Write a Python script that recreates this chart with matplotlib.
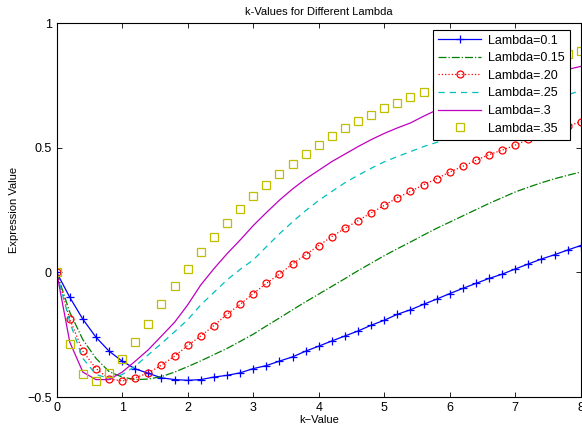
import matplotlib
matplotlib.use("Agg")
import matplotlib.pyplot as plt
import numpy as np

plt.rcParams["font.family"] = ["Liberation Sans", "DejaVu Sans"]
plt.rcParams["font.size"] = 8

# k values, step 0.2
k = np.round(np.arange(0, 8.01, 0.2), 1)

# values
lam_01 = [0, -0.10, -0.188, -0.26, -0.316, -0.356, -0.387, -0.405, -0.423, -0.43,
          -0.433, -0.43, -0.42, -0.413, -0.403, -0.386, -0.374, -0.356, -0.339, -0.316,
          -0.296, -0.275, -0.255, -0.235, -0.212, -0.192, -0.168, -0.150, -0.128, -0.107,
          -0.085, -0.064, -0.044, -0.024, -0.007, 0.014, 0.034, 0.054, 0.071, 0.090, 0.108]
lam_015 = [0, -0.16, -0.27, -0.345, -0.398, -0.42, -0.43, -0.428, -0.418, -0.40,
           -0.378, -0.355, -0.33, -0.305, -0.277, -0.248, -0.215, -0.183, -0.15, -0.118,
           -0.087, -0.056, -0.025, 0.007, 0.037, 0.067, 0.095, 0.122, 0.15, 0.177,
           0.202, 0.227, 0.252, 0.277, 0.30, 0.323, 0.342, 0.36, 0.376, 0.39, 0.403]
lam_020 = [0, -0.188, -0.316, -0.386, -0.427, -0.436, -0.423, -0.403, -0.372, -0.336,
           -0.293, -0.255, -0.213, -0.168, -0.128, -0.085, -0.044, -0.007, 0.034, 0.071,
           0.108, 0.144, 0.177, 0.208, 0.239, 0.269, 0.30, 0.325, 0.352, 0.376,
           0.403, 0.426, 0.45, 0.473, 0.491, 0.511, 0.534, 0.551, 0.57, 0.587, 0.605]
lam_025 = [0, -0.20, -0.345, -0.41, -0.425, -0.41, -0.376, -0.33, -0.285, -0.238,
           -0.19, -0.13, -0.08, -0.03, 0.012, 0.05, 0.103, 0.155, 0.203, 0.248,
           0.289, 0.325, 0.36, 0.39, 0.418, 0.444, 0.465, 0.485, 0.505, 0.522,
           0.538, 0.56, 0.58, 0.6, 0.62, 0.64, 0.66, 0.678, 0.695, 0.713, 0.73]
lam_030 = [0, -0.28, -0.40, -0.43, -0.43, -0.40, -0.356, -0.31, -0.255, -0.2,
           -0.13, -0.05, 0.015, 0.075, 0.13, 0.188, 0.24, 0.29, 0.335, 0.375,
           0.41, 0.445, 0.475, 0.505, 0.533, 0.558, 0.58, 0.60, 0.627, 0.652,
           0.67, 0.69, 0.71, 0.728, 0.745, 0.76, 0.775, 0.788, 0.80, 0.815, 0.827]
lam_035 = [0, -0.289, -0.407, -0.437, -0.403, -0.347, -0.278, -0.206, -0.128, -0.054,
           0.014, 0.081, 0.141, 0.198, 0.256, 0.306, 0.35, 0.397, 0.437, 0.475,
           0.511, 0.547, 0.578, 0.608, 0.632, 0.659, 0.681, 0.706, 0.726, 0.744,
           0.76, 0.776, 0.79, 0.805, 0.818, 0.83, 0.843, 0.855, 0.866, 0.877, 0.887]

labels = ["Lambda=0.1", "Lambda=0.15", "Lambda=.20", "Lambda=.25", "Lambda=.3", "Lambda=.35"]

fig = plt.figure(figsize=(5.82, 4.32), dpi=100)
ax = fig.add_axes([0.0974, 0.081, 0.9004, 0.865])

ax.plot(k, lam_01, color="#0000ff", lw=0.9, marker="+", ms=6, mew=0.9, label=labels[0])
ax.plot(k, lam_015, color="#008000", lw=0.9, ls="-.", label=labels[1])
ax.plot(k, lam_020, color="#ff0000", lw=0.9, ls=":", marker="o", ms=5, mfc="none",
        mew=0.9, label=labels[2])
ax.plot(k, lam_025, color="#00bfbf", lw=0.9, ls="--", dashes=(5, 4), label=labels[3])
ax.plot(k, lam_030, color="#bf00bf", lw=0.9, label=labels[4])
ax.plot(k, lam_035, color="#bfbf00", lw=0, ls="none", marker="s", ms=5.5, mfc="none",
        mew=0.9, label=labels[5])

ax.set_xlim(0, 8)
ax.set_ylim(-0.5, 1)
ax.set_xticks(range(0, 9))
ax.set_yticks([-0.5, 0, 0.5, 1])
ax.set_yticklabels(["\u22120.5", "0", "0.5", "1"])
ax.tick_params(direction="in", top=True, right=True, length=3.5, width=0.6, labelsize=9)
for s in ax.spines.values():
    s.set_linewidth(0.8)

ax.set_title("k-Values for Different Lambda", fontsize=8, pad=6)
ax.set_xlabel("k\u2212Value", fontsize=8, labelpad=1)
ax.set_ylabel("Expression Value", fontsize=8, labelpad=6)

leg = ax.legend(loc="upper right", bbox_to_anchor=(570 / 582, 1 - 29.5 / 432),
                bbox_transform=fig.transFigure, borderaxespad=0,
                fontsize=9, numpoints=1, handlelength=3.4,
                fancybox=False, framealpha=1, edgecolor="black", borderpad=0.4,
                labelspacing=0.45, handletextpad=0.6)
leg.get_frame().set_linewidth(0.8)

fig.savefig("out.png", dpi=100)
